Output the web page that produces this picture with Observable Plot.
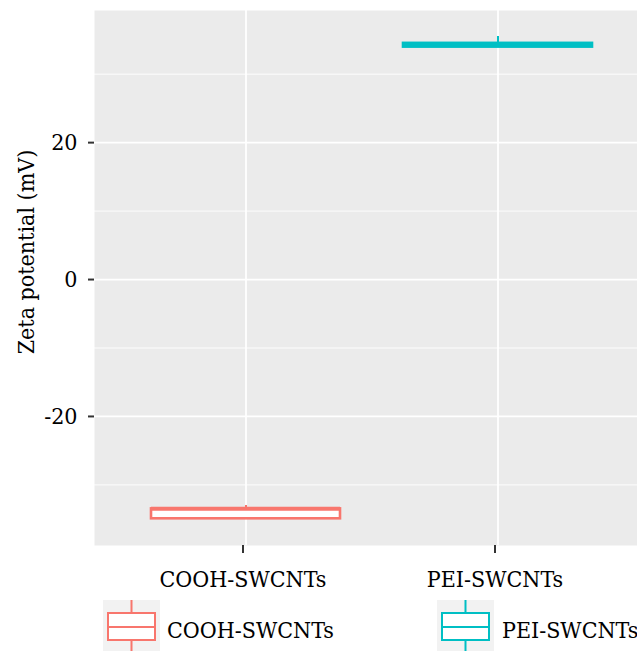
<!DOCTYPE html>
<html>
<head>
<meta charset="utf-8">
<script src="https://cdn.jsdelivr.net/npm/d3@7"></script>
<script src="https://cdn.jsdelivr.net/npm/@observablehq/plot@0.6"></script>
<style>
  html, body { margin: 0; padding: 0; background: white; }
  #wrap { position: relative; width: 637px; height: 651px; overflow: hidden; font-family: "DejaVu Serif Condensed", "DejaVu Serif", serif; font-stretch: condensed; }
  .key { position: absolute; top: 600px; }
  .key svg { display: block; }
  .klabel { position: absolute; top: 615px; font-size: 23px; line-height: 30px; color: black; white-space: nowrap; }
</style>
</head>
<body>
<div id="wrap"></div>
<script>
// ---- data ----
const categories = ["COOH-SWCNTs", "PEI-SWCNTs"];
const colors = ["#F8766D", "#00BFC4"];
const ymin = [-34.95, 33.95];
const q1 = [-34.95, 33.95];
const median = [-33.5, 34.25];
const q3 = [-33.5, 34.5];
const ymax = [-33.0, 35.5];
const yTicks = [-20, 0, 20];
const yMinorTicks = [-30, -10, 10, 30];
const yTitle = "Zeta potential (mV)";

const rows = categories.map((c, i) => ({
  cat: c, color: colors[i], ymin: ymin[i], q1: q1[i], median: median[i], q3: q3[i], ymax: ymax[i]
}));

const FONT = "'DejaVu Serif Condensed', 'DejaVu Serif', serif";

const chart = Plot.plot({
  width: 637,
  height: 598,
  marginTop: 10,
  marginBottom: 53,
  marginLeft: 94,
  marginRight: 0,
  style: { fontFamily: FONT, fontSize: "23px", background: "white", color: "black", overflow: "hidden" },
  x: { domain: categories, range: [94, 648], paddingInner: 0.25, paddingOuter: 0.224, align: 0.5, axis: null },
  y: { domain: [-38.85, 39.3], axis: null },
  color: { domain: categories, range: colors },
  marks: [
    Plot.frame({ fill: "#EBEBEB", stroke: null }),
    Plot.ruleY(yMinorTicks, { stroke: "white", strokeWidth: 0.9 }),
    Plot.ruleY(yTicks, { stroke: "white", strokeWidth: 1.8 }),
    Plot.ruleX(categories, { x: d => d, stroke: "white", strokeWidth: 1.8 }),
    // whiskers
    Plot.ruleX(rows, { x: "cat", y1: "q3", y2: "ymax", stroke: "color", strokeWidth: 2 }),
    Plot.ruleX(rows, { x: "cat", y1: "ymin", y2: "q1", stroke: "color", strokeWidth: 2 }),
    // boxes
    Plot.barY(rows, { x: "cat", y1: "q1", y2: "q3", fill: "white", stroke: "color", strokeWidth: 2.6, inset: 0 }),
    // medians
    Plot.tickY(rows, { x: "cat", y: "median", stroke: "color", strokeWidth: 4 }),
    // axes
    Plot.axisY(yTicks, { tickSize: 6, tickPadding: 11, tickFormat: d => String(d), stroke: "#333333", strokeWidth: 2, fill: "black", fontSize: 23, label: null }),
    Plot.axisX(categories, { tickSize: 8, tickPadding: 17, dx: -3, stroke: "#333333", strokeWidth: 2, fill: "black", fontSize: 23, label: null }),
    Plot.text([yTitle], { frameAnchor: "left", dx: -68, dy: -26, rotate: -90, textAnchor: "middle", lineAnchor: "middle", fontSize: 23, fill: "black" })
  ]
});

const wrap = document.getElementById("wrap");
chart.style.display = "block";
wrap.appendChild(chart);

// ---- legend below the plot ----
const keyLeft = [103, 437];
const labelLeft = [167, 502];
categories.forEach((c, i) => {
  const col = colors[i];
  const key = document.createElement("div");
  key.className = "key";
  key.style.left = keyLeft[i] + "px";
  key.innerHTML =
    `<svg width="57" height="51" viewBox="0 0 57 51">
       <rect x="0" y="0" width="57" height="51" fill="#F2F2F2"/>
       <line x1="28.5" y1="0" x2="28.5" y2="13" stroke="${col}" stroke-width="2"/>
       <line x1="28.5" y1="40" x2="28.5" y2="51" stroke="${col}" stroke-width="2"/>
       <rect x="5" y="13" width="47" height="27" fill="white" stroke="${col}" stroke-width="2"/>
       <line x1="5" y1="27" x2="52" y2="27" stroke="${col}" stroke-width="2"/>
     </svg>`;
  wrap.appendChild(key);
  const lab = document.createElement("div");
  lab.className = "klabel";
  lab.style.left = labelLeft[i] + "px";
  lab.textContent = c;
  wrap.appendChild(lab);
});
</script>
</body>
</html>
